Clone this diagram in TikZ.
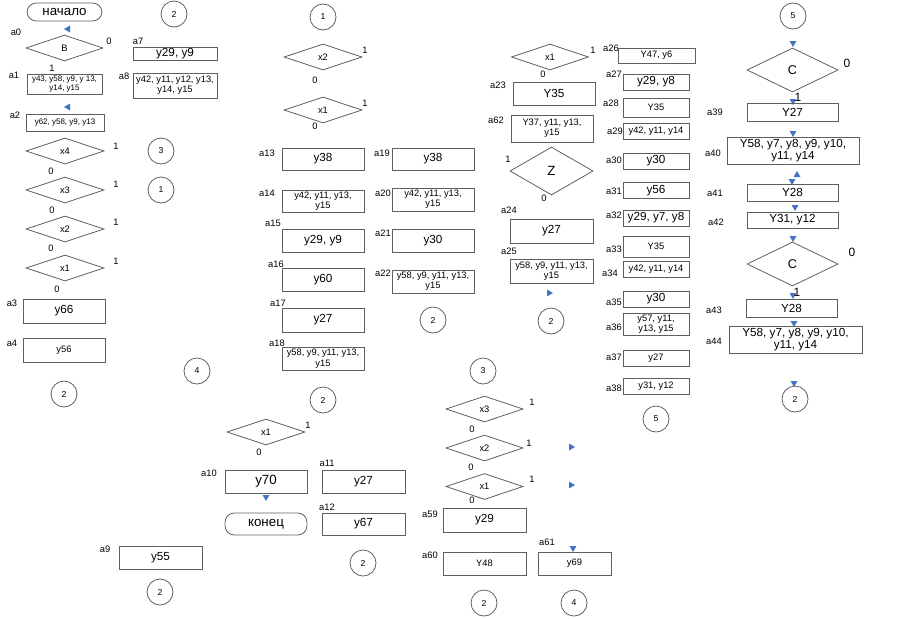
\documentclass[tikz,border=0pt]{standalone}
\usepackage{fontspec}
\setmainfont{Liberation Sans}
\usetikzlibrary{shapes.geometric}
\definecolor{arrowblue}{RGB}{68,114,196}
\definecolor{edge}{RGB}{95,95,95}

\begin{document}
\begin{tikzpicture}[x=0.75pt, y=-0.75pt,
    every node/.style={inner sep=0pt},
    blk/.style={draw=edge, line width=0.6pt, rectangle, align=center, minimum width=61.5pt, minimum height=17.25pt, font=\fontsize{8.8}{9.5}\selectfont},
    sblk/.style={blk, font=\fontsize{7}{7.8}\selectfont},
    tblk/.style={blk, font=\fontsize{6}{7}\selectfont},
    nblk/.style={minimum width=49.5pt, minimum height=12pt},
    cond/.style={diamond, draw=edge, line width=0.6pt, minimum width=58.5pt, minimum height=19.5pt, font=\fontsize{7}{8}\selectfont},
    term/.style={draw=edge, line width=0.6pt, rounded corners=7pt, minimum width=61.5pt, minimum height=16.5pt, font=\fontsize{10}{11}\selectfont},
    conn/.style={circle, draw=edge, line width=0.6pt, minimum size=19.5pt, font=\fontsize{6.5}{7}\selectfont},
    lbl/.style={font=\fontsize{7}{8}\selectfont},
    btri/.style={isosceles triangle, isosceles triangle apex angle=60, fill=arrowblue, minimum size=4.5pt, shape border rotate=#1}]

    \useasboundingbox (0,0) rectangle (898,618);

    % column a0 - a4
    \node[term, minimum width=56.25pt, minimum height=13.5pt] (start) at (64.5,12) {начало};
    \node[btri=180] (t1) at (68,29) {};
    \node[lbl] (la0) at (16,32) {a0};
    \node[cond, minimum width=57.75pt] (dB) at (64.5,48) {B};
    \node[lbl] (dB0) at (109,41) {0};
    \node[lbl] (dB1) at (52,68) {1};

    \node[lbl] (la1) at (14,75) {a1};
    \node[tblk, minimum width=56.25pt, minimum height=15pt] (a1) at (64.5,84) {y43, y58, y9, y 13,\\ y14, y15};
    \node[btri=180] (t2) at (68,107) {};
    \node[lbl] (la2) at (15,115) {a2};
    \node[tblk, minimum width=58.5pt, minimum height=12.75pt] (a2) at (65,122.5) {y62, y58, y9, y13};

    \node[cond] (dx4) at (65,151) {x4};
    \node[lbl] (dx41) at (116,146) {1};
    \node[lbl] (dx40) at (51,171) {0};
    \node[cond] (dx3) at (65,190) {x3};
    \node[lbl] (dx31) at (116,184) {1};
    \node[lbl] (dx30) at (52,210) {0};
    \node[cond] (dx2) at (65,229) {x2};
    \node[lbl] (dx21) at (116,222) {1};
    \node[lbl] (dx20) at (51,248) {0};
    \node[cond] (dx1) at (65,268) {x1};
    \node[lbl] (dx11) at (116,261) {1};
    \node[lbl] (dx10) at (57,289) {0};

    \node[lbl] (la3) at (12,303) {a3};
    \node[blk, minimum height=18pt] (a3) at (64,311) {y66};
    \node[lbl] (la4) at (12,343) {a4};
    \node[sblk, minimum height=18pt] (a4) at (64,350) {y56};
    \node[conn] (c2a) at (64,394) {2};

    % a7, a8
    \node[conn] (c2b) at (174,14) {2};
    \node[lbl] (la7) at (138,41) {a7};
    \node[blk, minimum width=63pt, minimum height=9.75pt] (a7) at (175,53.5) {y29, y9};
    \node[lbl] (la8) at (124,76) {a8};
    \node[sblk, minimum width=63pt, minimum height=18.75pt] (a8) at (175,85.5) {y42, y11, y12, y13,\\ y14, y15};
    \node[conn] (c3a) at (161,151) {3};
    \node[conn] (c1a) at (161,190) {1};
    \node[conn] (c4a) at (197,371) {4};

    % branch 1
    \node[conn] (c1b) at (323,17) {1};
    \node[cond] (ex2) at (323,57) {x2};
    \node[lbl] (ex21) at (365,50) {1};
    \node[lbl] (ex20) at (315,80) {0};
    \node[cond] (ex1) at (323,110) {x1};
    \node[lbl] (ex11) at (365,103) {1};
    \node[lbl] (ex10) at (315,126) {0};

    \node[lbl] (la13) at (267,153) {a13};
    \node[blk, minimum height=16.5pt] (a13) at (323,159) {y38};
    \node[lbl] (la14) at (267,193) {a14};
    \node[sblk, minimum height=16.5pt] (a14) at (323,201) {y42, y11, y13,\\ y15};
    \node[lbl] (la15) at (273,223) {a15};
    \node[blk] (a15) at (323,240.5) {y29, y9};
    \node[lbl] (la16) at (276,264) {a16};
    \node[blk] (a16) at (323,279.5) {y60};
    \node[lbl] (la17) at (278,303) {a17};
    \node[blk, minimum height=18pt] (a17) at (323,320) {y27};
    \node[lbl] (la18) at (277,343) {a18};
    \node[sblk] (a18) at (323,358.5) {y58, y9, y11, y13,\\ y15};
    \node[conn] (c2c) at (323,400) {2};

    \node[lbl] (la19) at (382,153) {a19};
    \node[blk, minimum height=16.5pt] (a19) at (433,159) {y38};
    \node[lbl] (la20) at (383,193) {a20};
    \node[sblk] (a20) at (433,199.5) {y42, y11, y13,\\ y15};
    \node[lbl] (la21) at (383,233) {a21};
    \node[blk] (a21) at (433,240.5) {y30};
    \node[lbl] (la22) at (383,273) {a22};
    \node[sblk] (a22) at (433,281.5) {y58, y9, y11, y13,\\ y15};
    \node[conn] (c2d) at (433,320) {2};

    % a9 - a12
    \node[cond] (fx1) at (266,432) {x1};
    \node[lbl] (fx11) at (308,425) {1};
    \node[lbl] (fx10) at (259,452) {0};
    \node[lbl] (la10) at (209,473) {a10};
    \node[blk, font=\fontsize{10}{11}\selectfont] (a10) at (266,481.5) {y70};
    \node[btri=270] (t3) at (266,497) {};
    \node[term] (stop) at (266,524) {конец};
    \node[lbl] (la11) at (327,463) {a11};
    \node[blk, minimum width=62.25pt] (a11) at (363.5,481.5) {y27};
    \node[lbl] (la12) at (327,507) {a12};
    \node[blk, minimum width=62.25pt, minimum height=16.5pt] (a12) at (363.5,524) {y67};
    \node[conn] (c2e) at (363,563) {2};
    \node[lbl] (la9) at (105,549) {a9};
    \node[blk, minimum width=62.25pt] (a9) at (160.5,557.5) {y55};
    \node[conn] (c2f) at (160,592) {2};

    % branch 3
    \node[conn] (c3b) at (483,371) {3};
    \node[cond, minimum width=57.75pt] (gx3) at (484.5,409) {x3};
    \node[lbl] (gx31) at (532,402) {1};
    \node[lbl] (gx30) at (472,429) {0};
    \node[cond, minimum width=57.75pt] (gx2) at (484.5,448) {x2};
    \node[lbl] (gx21) at (529,443) {1};
    \node[lbl] (gx20) at (471,467) {0};
    \node[btri=0] (t4) at (571,447) {};
    \node[cond, minimum width=57.75pt] (gx1) at (484.5,486.5) {x1};
    \node[lbl] (gx11) at (532,479) {1};
    \node[lbl] (gx10) at (472,500) {0};
    \node[btri=0] (t5) at (571,485) {};
    \node[lbl] (la59) at (430,514) {a59};
    \node[blk, minimum width=62.25pt, minimum height=18pt] (a59) at (484.5,520) {y29};
    \node[lbl] (la60) at (430,555) {a60};
    \node[sblk, minimum width=62.25pt] (a60) at (484.5,563.5) {Y48};
    \node[lbl] (la61) at (547,542) {a61};
    \node[btri=270] (t6) at (573,548) {};
    \node[sblk, minimum width=54.75pt] (a61) at (574.5,563.5) {y69};
    \node[conn] (c2g) at (484,603) {2};
    \node[conn] (c4b) at (574,603) {4};

    % a23 - a25, a62
    \node[cond, minimum width=57.75pt] (hx1) at (550,57) {x1};
    \node[lbl] (hx11) at (593,50) {1};
    \node[lbl] (hx10) at (543,74) {0};
    \node[lbl] (la23) at (498,85) {a23};
    \node[blk] (a23) at (554,93.5) {Y35};
    \node[lbl] (la62) at (496,120) {a62};
    \node[sblk, minimum height=20.25pt] (a62) at (552,128.5) {Y37, y11, y13,\\ y15};
    \node[cond, minimum width=62.25pt, minimum height=36pt, font=\fontsize{10}{11}\selectfont] (dZ) at (551.5,171) {Z};
    \node[lbl] (dZ1) at (508,159) {1};
    \node[lbl] (dZ0) at (544,198) {0};
    \node[lbl] (la24) at (509,210) {a24};
    \node[blk, minimum width=62.25pt, minimum height=18pt] (a24) at (551.5,231) {y27};
    \node[lbl] (la25) at (509,251) {a25};
    \node[sblk, minimum width=62.25pt, minimum height=18pt] (a25) at (551.5,271) {y58, y9, y11, y13,\\ y15};
    \node[btri=0] (t7) at (549,293) {};
    \node[conn] (c2h) at (551,321) {2};

    % a26 - a38
    \node[lbl] (la26) at (611,48) {a26};
    \node[sblk, minimum width=57.75pt, minimum height=11.25pt] (a26) at (656.5,55.5) {Y47, y6};
    \node[lbl] (la27) at (614,74) {a27};
    \node[blk, nblk] (a27) at (656,82) {y29, y8};
    \node[lbl] (la28) at (611,103) {a28};
    \node[sblk, nblk, minimum height=14.25pt] (a28) at (656,107.5) {Y35};
    \node[lbl] (la29) at (615,131) {a29};
    \node[sblk, nblk] (a29) at (656,131) {y42, y11, y14};
    \node[lbl] (la30) at (614,160) {a30};
    \node[blk, nblk] (a30) at (656,161) {y30};
    \node[lbl] (la31) at (614,191) {a31};
    \node[blk, nblk] (a31) at (656,190.5) {y56};
    \node[lbl] (la32) at (614,215) {a32};
    \node[blk, nblk] (a32) at (656,218) {y29, y7, y8};
    \node[lbl] (la33) at (614,249) {a33};
    \node[sblk, nblk, minimum height=15.75pt] (a33) at (656,246.5) {Y35};
    \node[lbl] (la34) at (610,273) {a34};
    \node[sblk, nblk] (a34) at (656,269) {y42, y11, y14};
    \node[lbl] (la35) at (614,302) {a35};
    \node[blk, nblk] (a35) at (656,299) {y30};
    \node[lbl] (la36) at (614,327) {a36};
    \node[sblk, nblk, minimum height=16.5pt] (a36) at (656,324) {y57, y11,\\ y13, y15};
    \node[lbl] (la37) at (614,357) {a37};
    \node[sblk, nblk] (a37) at (656,358) {y27};
    \node[lbl] (la38) at (614,388) {a38};
    \node[sblk, nblk] (a38) at (656,386) {y31, y12};
    \node[conn] (c5a) at (656,419) {5};

    % a39 - a44
    \node[conn] (c5b) at (793,16) {5};
    \node[btri=270] (t8) at (793,43) {};
    \node[cond, minimum width=68.25pt, minimum height=33pt, font=\fontsize{9.5}{10}\selectfont] (dC1) at (792.5,70) {C};
    \node[lbl, font=\fontsize{9}{10}\selectfont] (dC10) at (847,63) {0};
    \node[btri=270] (t9) at (793,101) {};
    \node[lbl, font=\fontsize{9}{10}\selectfont] (dC11) at (798,97) {1};
    \node[lbl] (la39) at (715,112) {a39};
    \node[blk, minimum width=68.25pt, minimum height=13.5pt] (a39) at (792.5,112) {Y27};
    \node[btri=270] (t10) at (793,133) {};
    \node[lbl] (la40) at (713,153) {a40};
    \node[blk, minimum width=99pt, minimum height=20.25pt] (a40) at (793,150.5) {Y58, y7, y8, y9, y10,\\ y11, y14};
    \node[btri=270] (t11) at (792,181) {};
    \node[btri=45] (t12) at (797,175) {};
    \node[lbl] (la41) at (715,193) {a41};
    \node[blk, minimum width=68.25pt, minimum height=12.75pt] (a41) at (792.5,192.5) {Y28};
    \node[btri=270] (t13) at (795,207) {};
    \node[lbl] (la42) at (716,222) {a42};
    \node[blk, minimum width=68.25pt, minimum height=12pt] (a42) at (792.5,220) {Y31, y12};
    \node[btri=270] (t14) at (793,238) {};
    \node[cond, minimum width=68.25pt, minimum height=33pt, font=\fontsize{9.5}{10}\selectfont] (dC2) at (792.5,264) {C};
    \node[lbl, font=\fontsize{9}{10}\selectfont] (dC20) at (852,252) {0};
    \node[btri=270] (t15) at (793,295) {};
    \node[lbl, font=\fontsize{9}{10}\selectfont] (dC21) at (797,292) {1};
    \node[lbl] (la43) at (714,310) {a43};
    \node[blk, minimum width=68.25pt, minimum height=13.5pt] (a43) at (791.5,308) {Y28};
    \node[btri=270] (t16) at (794,323) {};
    \node[lbl] (la44) at (714,341) {a44};
    \node[blk, minimum width=99.75pt, minimum height=20.25pt] (a44) at (795.5,339.5) {Y58, y7, y8, y9, y10,\\ y11, y14};
    \node[btri=270] (t17) at (794,383) {};
    \node[conn] (c2i) at (795,399) {2};
\end{tikzpicture}
\end{document}
